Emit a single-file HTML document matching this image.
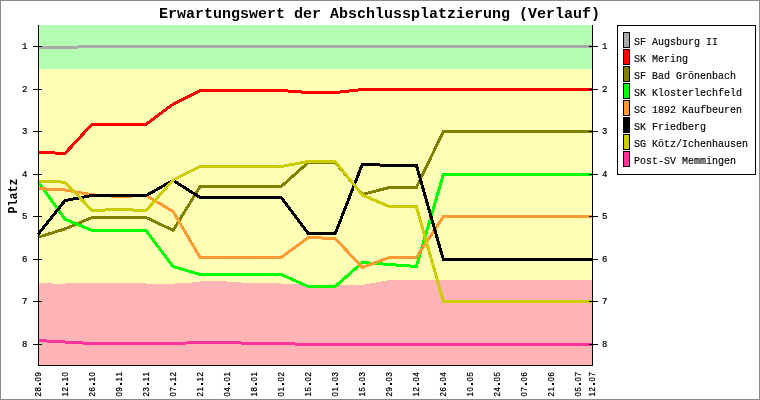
<!DOCTYPE html><html><head><meta charset="utf-8"><style>html,body{margin:0;padding:0;background:#fff;overflow:hidden}svg{display:block;will-change:transform}text{font-family:"Liberation Mono",monospace}text.s{font-family:"Liberation Sans",sans-serif}</style></head><body>
<svg width="760" height="400" viewBox="0 0 760 400">
<rect x="0" y="0" width="760" height="400" fill="#ffffff"/>
<rect x="0.5" y="0.5" width="759" height="399" fill="none" stroke="#8a8a8a" stroke-width="1" shape-rendering="crispEdges"/>
<g shape-rendering="crispEdges">
<rect x="39" y="25" width="553" height="44" fill="#b4feb4"/>
<rect x="39" y="69" width="553" height="296" fill="#fefeb4"/>
<polygon points="38,365 38,283 52,283 52,284 65,284 65,283 146,283 146,284 175,284 175,283 192,283 192,282 200,282 200,281 227,281 227,282 241,282 241,283 281,283 281,284 308,284 308,285 362.34,285 389.37,280 592,280 592,365" fill="#feb4b4"/>
</g>
<g fill="none" stroke-width="3" stroke-linejoin="miter" stroke-linecap="butt" shape-rendering="crispEdges">
<polyline points="38.00,47.50 65.02,47.50 92.05,46.50 119.07,46.50 146.10,46.50 173.12,46.50 200.15,46.50 227.17,46.50 254.20,46.50 281.22,46.50 308.24,46.50 335.27,46.50 362.29,46.50 389.32,46.50 416.34,46.50 443.37,46.50 470.39,46.50 497.41,46.50 524.44,46.50 551.46,46.50 578.49,46.50 592.00,46.50" stroke="#aaaaaa"/>
<polyline points="38.00,152.30 65.02,153.40 92.05,124.20 119.07,124.20 146.10,124.20 173.12,104.20 200.15,90.50 227.17,90.50 254.20,90.50 281.22,90.50 308.24,92.50 335.27,92.50 362.29,89.50 389.32,89.50 416.34,89.50 443.37,89.50 470.39,89.50 497.41,89.50 524.44,89.50 551.46,89.50 578.49,89.50 592.00,89.50" stroke="#ff0000"/>
<polyline points="38.00,237.30 65.02,228.90 92.05,217.50 119.07,217.50 146.10,217.50 173.12,230.30 200.15,186.50 227.17,186.50 254.20,186.50 281.22,186.50 308.24,162.50 335.27,162.50 362.29,194.50 389.32,187.50 416.34,187.50 443.37,131.50 470.39,131.50 497.41,131.50 524.44,131.50 551.46,131.50 578.49,131.50 592.00,131.50" stroke="#808000"/>
<polyline points="38.00,181.60 65.02,219.20 92.05,230.50 119.07,230.50 146.10,230.50 173.12,266.60 200.15,274.50 227.17,274.50 254.20,274.50 281.22,274.50 308.24,286.50 335.27,286.50 362.29,262.50 389.32,264.50 416.34,266.50 443.37,174.50 470.39,174.50 497.41,174.50 524.44,174.50 551.46,174.50 578.49,174.50 592.00,174.50" stroke="#00ff00"/>
<polyline points="38.00,188.60 65.02,190.00 92.05,194.80 119.07,196.50 146.10,195.50 173.12,211.50 200.15,257.50 227.17,257.50 254.20,257.50 281.22,257.50 308.24,237.50 335.27,238.50 362.29,267.40 389.32,257.50 416.34,257.50 443.37,216.50 470.39,216.50 497.41,216.50 524.44,216.50 551.46,216.50 578.49,216.50 592.00,216.50" stroke="#ff9933"/>
<polyline points="38.00,234.50 65.02,200.50 92.05,195.50 119.07,195.50 146.10,195.50 173.12,180.40 200.15,197.50 227.17,197.50 254.20,197.50 281.22,197.50 308.24,233.50 335.27,233.50 362.29,164.30 389.32,165.40 416.34,165.40 443.37,259.50 470.39,259.50 497.41,259.50 524.44,259.50 551.46,259.50 578.49,259.50 592.00,259.50" stroke="#000000"/>
<polyline points="38.00,181.00 65.02,182.20 92.05,210.50 119.07,209.50 146.10,210.50 173.12,180.00 200.15,166.50 227.17,166.50 254.20,166.50 281.22,166.50 308.24,161.50 335.27,161.50 362.29,195.00 389.32,206.50 416.34,206.50 443.37,301.50 470.39,301.50 497.41,301.50 524.44,301.50 551.46,301.50 578.49,301.50 592.00,301.50" stroke="#cccc00"/>
<polyline points="38.00,340.50 65.02,342.00 92.05,343.50 119.07,343.50 146.10,343.50 173.12,343.50 200.15,342.50 227.17,342.50 254.20,343.50 281.22,343.50 308.24,344.50 335.27,344.50 362.29,344.50 389.32,344.50 416.34,344.50 443.37,344.50 470.39,344.50 497.41,344.50 524.44,344.50 551.46,344.50 578.49,344.50 592.00,344.50" stroke="#ff3399"/>
</g>
<g stroke="#000" stroke-width="1" shape-rendering="crispEdges">
<line x1="38.5" y1="25" x2="38.5" y2="366"/>
<line x1="592.5" y1="25" x2="592.5" y2="366"/>
<line x1="38" y1="365.5" x2="593" y2="365.5"/>
<line x1="33" y1="46.5" x2="42" y2="46.5"/>
<line x1="589" y1="46.5" x2="598" y2="46.5"/>
<line x1="33" y1="89.5" x2="42" y2="89.5"/>
<line x1="589" y1="89.5" x2="598" y2="89.5"/>
<line x1="33" y1="131.5" x2="42" y2="131.5"/>
<line x1="589" y1="131.5" x2="598" y2="131.5"/>
<line x1="33" y1="174.5" x2="42" y2="174.5"/>
<line x1="589" y1="174.5" x2="598" y2="174.5"/>
<line x1="33" y1="216.5" x2="42" y2="216.5"/>
<line x1="589" y1="216.5" x2="598" y2="216.5"/>
<line x1="33" y1="259.5" x2="42" y2="259.5"/>
<line x1="589" y1="259.5" x2="598" y2="259.5"/>
<line x1="33" y1="301.5" x2="42" y2="301.5"/>
<line x1="589" y1="301.5" x2="598" y2="301.5"/>
<line x1="33" y1="344.5" x2="42" y2="344.5"/>
<line x1="589" y1="344.5" x2="598" y2="344.5"/>
</g>
<g font-size="9" fill="#000" stroke="#000" stroke-width="0.2">
<text x="27.5" y="48.5" text-anchor="end">1</text>
<text x="602" y="48.5">1</text>
<text x="27.5" y="91.5" text-anchor="end">2</text>
<text x="602" y="91.5">2</text>
<text x="27.5" y="133.5" text-anchor="end">3</text>
<text x="602" y="133.5">3</text>
<text x="27.5" y="176.5" text-anchor="end">4</text>
<text x="602" y="176.5">4</text>
<text x="27.5" y="218.5" text-anchor="end">5</text>
<text x="602" y="218.5">5</text>
<text x="27.5" y="261.5" text-anchor="end">6</text>
<text x="602" y="261.5">6</text>
<text x="27.5" y="303.5" text-anchor="end">7</text>
<text x="602" y="303.5">7</text>
<text x="27.5" y="346.5" text-anchor="end">8</text>
<text x="602" y="346.5">8</text>
</g>
<g font-size="8.6" fill="#000" stroke="#000" stroke-width="0.25" style="font-family:'Liberation Sans',sans-serif">
<text class="s" transform="translate(41.00,396.5) rotate(-90) scale(0.9,1)" x="0.00 5.56 16.67 22.22">2809</text>
<text class="s" transform="translate(68.00,396.5) rotate(-90) scale(0.9,1)" x="0.00 5.56 16.67 22.22">1210</text>
<text class="s" transform="translate(95.00,396.5) rotate(-90) scale(0.9,1)" x="0.00 5.56 16.67 22.22">2610</text>
<text class="s" transform="translate(122.00,396.5) rotate(-90) scale(0.9,1)" x="0.00 5.56 16.67 22.22">0911</text>
<text class="s" transform="translate(149.00,396.5) rotate(-90) scale(0.9,1)" x="0.00 5.56 16.67 22.22">2311</text>
<text class="s" transform="translate(176.00,396.5) rotate(-90) scale(0.9,1)" x="0.00 5.56 16.67 22.22">0712</text>
<text class="s" transform="translate(203.00,396.5) rotate(-90) scale(0.9,1)" x="0.00 5.56 16.67 22.22">2112</text>
<text class="s" transform="translate(230.00,396.5) rotate(-90) scale(0.9,1)" x="0.00 5.56 16.67 22.22">0401</text>
<text class="s" transform="translate(257.00,396.5) rotate(-90) scale(0.9,1)" x="0.00 5.56 16.67 22.22">1801</text>
<text class="s" transform="translate(284.00,396.5) rotate(-90) scale(0.9,1)" x="0.00 5.56 16.67 22.22">0102</text>
<text class="s" transform="translate(311.00,396.5) rotate(-90) scale(0.9,1)" x="0.00 5.56 16.67 22.22">1502</text>
<text class="s" transform="translate(338.00,396.5) rotate(-90) scale(0.9,1)" x="0.00 5.56 16.67 22.22">0103</text>
<text class="s" transform="translate(365.00,396.5) rotate(-90) scale(0.9,1)" x="0.00 5.56 16.67 22.22">1503</text>
<text class="s" transform="translate(392.00,396.5) rotate(-90) scale(0.9,1)" x="0.00 5.56 16.67 22.22">2903</text>
<text class="s" transform="translate(419.00,396.5) rotate(-90) scale(0.9,1)" x="0.00 5.56 16.67 22.22">1204</text>
<text class="s" transform="translate(446.00,396.5) rotate(-90) scale(0.9,1)" x="0.00 5.56 16.67 22.22">2604</text>
<text class="s" transform="translate(473.00,396.5) rotate(-90) scale(0.9,1)" x="0.00 5.56 16.67 22.22">1005</text>
<text class="s" transform="translate(500.00,396.5) rotate(-90) scale(0.9,1)" x="0.00 5.56 16.67 22.22">2405</text>
<text class="s" transform="translate(527.00,396.5) rotate(-90) scale(0.9,1)" x="0.00 5.56 16.67 22.22">0706</text>
<text class="s" transform="translate(554.00,396.5) rotate(-90) scale(0.9,1)" x="0.00 5.56 16.67 22.22">2106</text>
<text class="s" transform="translate(581.00,396.5) rotate(-90) scale(0.9,1)" x="0.00 5.56 16.67 22.22">0507</text>
<text class="s" transform="translate(595.00,396.5) rotate(-90) scale(0.9,1)" x="0.00 5.56 16.67 22.22">1207</text>
</g>
<g fill="#000" shape-rendering="crispEdges">
<rect x="39" y="383" width="2" height="2"/>
<rect x="66" y="383" width="2" height="2"/>
<rect x="93" y="383" width="2" height="2"/>
<rect x="120" y="383" width="2" height="2"/>
<rect x="147" y="383" width="2" height="2"/>
<rect x="174" y="383" width="2" height="2"/>
<rect x="201" y="383" width="2" height="2"/>
<rect x="228" y="383" width="2" height="2"/>
<rect x="255" y="383" width="2" height="2"/>
<rect x="282" y="383" width="2" height="2"/>
<rect x="309" y="383" width="2" height="2"/>
<rect x="336" y="383" width="2" height="2"/>
<rect x="363" y="383" width="2" height="2"/>
<rect x="390" y="383" width="2" height="2"/>
<rect x="417" y="383" width="2" height="2"/>
<rect x="444" y="383" width="2" height="2"/>
<rect x="471" y="383" width="2" height="2"/>
<rect x="498" y="383" width="2" height="2"/>
<rect x="525" y="383" width="2" height="2"/>
<rect x="552" y="383" width="2" height="2"/>
<rect x="579" y="383" width="2" height="2"/>
<rect x="593" y="383" width="2" height="2"/>
</g>
<text transform="translate(16.5,213.5) rotate(-90) scale(0.897,1)" font-size="13" font-weight="bold" fill="#000">Platz</text>
<text x="159" y="18" font-size="15" font-weight="bold" fill="#000">Erwartungswert der Abschlussplatzierung (Verlauf)</text>
<rect x="617.5" y="25.5" width="138" height="149" fill="#fff" stroke="#000" shape-rendering="crispEdges"/>
<rect x="623.5" y="32.5" width="6" height="15" fill="#aaaaaa" stroke="#000" shape-rendering="crispEdges"/>
<text x="634" y="45" font-size="10" fill="#000" stroke="#000" stroke-width="0.15">SF Augsburg II</text>
<rect x="623.5" y="49.5" width="6" height="15" fill="#ff0000" stroke="#000" shape-rendering="crispEdges"/>
<text x="634" y="62" font-size="10" fill="#000" stroke="#000" stroke-width="0.15">SK Mering</text>
<rect x="623.5" y="66.5" width="6" height="15" fill="#808000" stroke="#000" shape-rendering="crispEdges"/>
<text x="634" y="79" font-size="10" fill="#000" stroke="#000" stroke-width="0.15">SF Bad Grönenbach</text>
<rect x="623.5" y="83.5" width="6" height="15" fill="#00ff00" stroke="#000" shape-rendering="crispEdges"/>
<text x="634" y="96" font-size="10" fill="#000" stroke="#000" stroke-width="0.15">SK Klosterlechfeld</text>
<rect x="623.5" y="100.5" width="6" height="15" fill="#ff9933" stroke="#000" shape-rendering="crispEdges"/>
<text x="634" y="113" font-size="10" fill="#000" stroke="#000" stroke-width="0.15">SC 1892 Kaufbeuren</text>
<rect x="623.5" y="117.5" width="6" height="15" fill="#000000" stroke="#000" shape-rendering="crispEdges"/>
<text x="634" y="130" font-size="10" fill="#000" stroke="#000" stroke-width="0.15">SK Friedberg</text>
<rect x="623.5" y="134.5" width="6" height="15" fill="#cccc00" stroke="#000" shape-rendering="crispEdges"/>
<text x="634" y="147" font-size="10" fill="#000" stroke="#000" stroke-width="0.15">SG Kötz/Ichenhausen</text>
<rect x="623.5" y="151.5" width="6" height="15" fill="#ff3399" stroke="#000" shape-rendering="crispEdges"/>
<text x="634" y="164" font-size="10" fill="#000" stroke="#000" stroke-width="0.15">Post-SV Memmingen</text>
</svg></body></html>
